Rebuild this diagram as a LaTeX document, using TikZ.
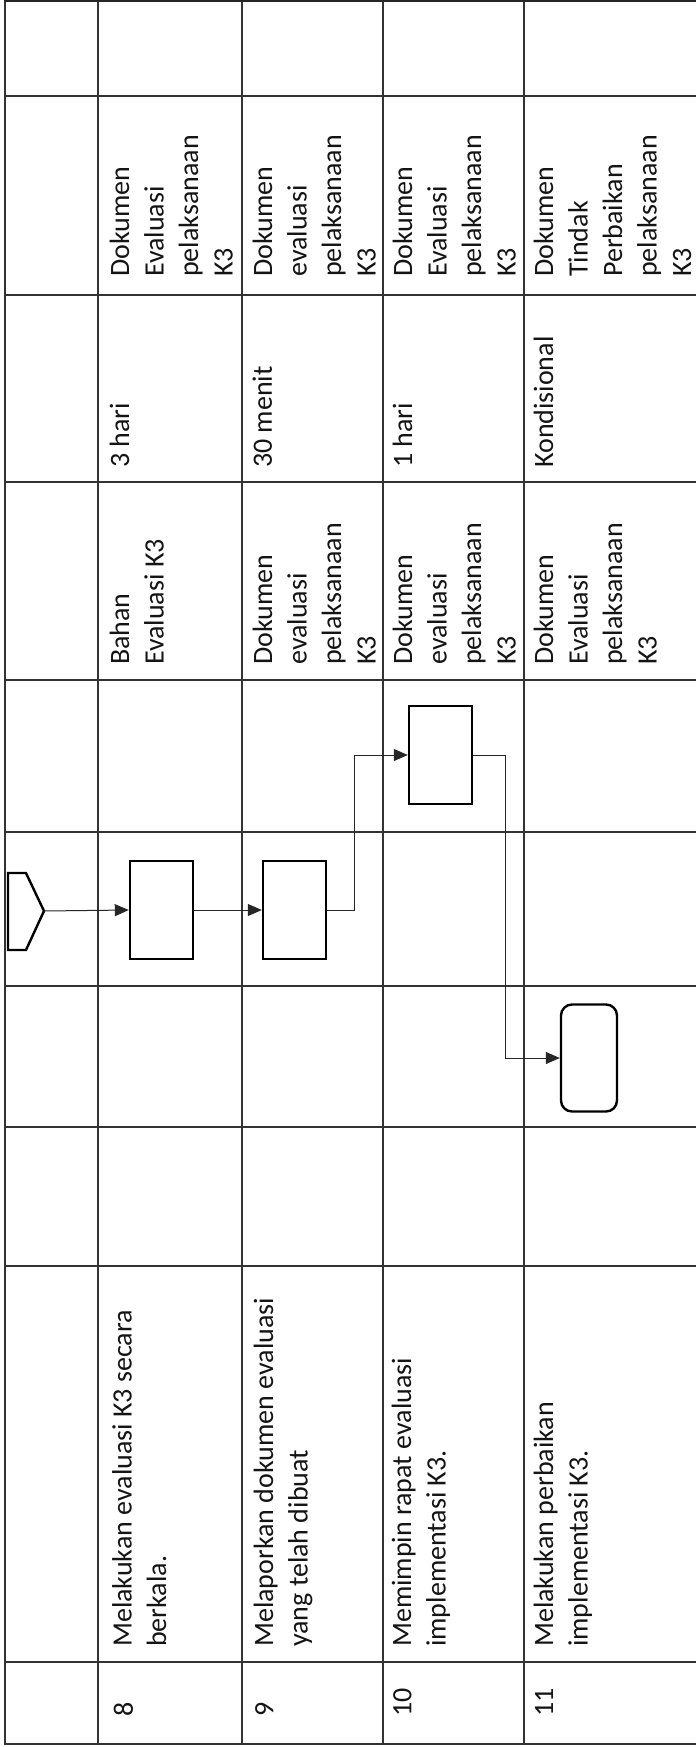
\documentclass[tikz,border=0pt]{standalone}
\usepackage{fontspec}
\setmainfont{Carlito}
\usetikzlibrary{arrows.meta}
\begin{document}
\begin{tikzpicture}[x=1pt,y=-1pt,
  gridline/.style={draw=black!80, line width=1.1pt},
  cell/.style={rotate=90, anchor=north west, inner sep=0pt, align=left,
    font=\fontsize{28}{34.5}\selectfont, text=black!92},
  proc/.style={draw=black, line width=2.4pt, minimum width=63pt, minimum height=98pt, inner sep=0pt},
  term/.style={draw=black, line width=2.4pt, rounded corners=11pt, minimum width=56pt, minimum height=107pt, inner sep=0pt},
  flow/.style={draw=black!85, line width=1pt, -{Triangle[length=14pt,width=12pt]}},
]
\useasboundingbox (0,0) rectangle (696,1747);
\fill[white] (0,0) rectangle (696,1747);

% table grid
\foreach \x in {5,98,242,383,524}
  \draw[gridline] (\x,0) -- (\x,1745);
\foreach \y in {96,295,482,680,832,986,1127,1266,1662,1744}
  \draw[gridline] (5,\y) -- (696,\y);
\draw[draw=black!85, line width=2.2pt] (4,1.2) -- (696,1.2);

% row 8
\node[cell] (o8) at (109.5,277) {Dokumen\\Evaluasi\\pelaksanaan\\K3};
\node[cell] (w8) at (109.5,468) {3 hari};
\node[cell] (i8) at (109.5,665) {Bahan\\Evaluasi K3};
\node[cell] (d8) at (112,1647) {Melakukan evaluasi K3 secara\\berkala.};
\node[cell] (n8) at (113.5,1717) {8};
% row 9
\node[cell] (o9) at (252.5,277) {Dokumen\\evaluasi\\pelaksanaan\\K3};
\node[cell] (w9) at (252.5,468) {30 menit};
\node[cell] (i9) at (252.5,665) {Dokumen\\evaluasi\\pelaksanaan\\K3};
\node[cell] (d9) at (253.5,1647) {Melaporkan dokumen evaluasi\\yang telah dibuat};
\node[cell] (n9) at (255,1717) {9};
% row 10
\node[cell] (o10) at (392.5,277) {Dokumen\\Evaluasi\\pelaksanaan\\K3};
\node[cell] (w10) at (392.5,468) {1 hari};
\node[cell] (i10) at (392.5,665) {Dokumen\\evaluasi\\pelaksanaan\\K3};
\node[cell] (d10) at (391.5,1647) {Memimpin rapat evaluasi\\implementasi K3.};
\node[cell] (n10) at (393,1717) {10};
% row 11
\node[cell] (o11) at (533.5,277) {Dokumen\\Tindak\\Perbaikan\\pelaksanaan\\K3};
\node[cell] (w11) at (533.5,468) {Kondisional};
\node[cell] (i11) at (533.5,665) {Dokumen\\Evaluasi\\pelaksanaan\\K3};
\node[cell] (d11) at (533.5,1647) {Melakukan perbaikan\\implementasi K3.};
\node[cell] (n11) at (535,1717) {11};

% flow shapes
\draw[draw=black, line width=2.4pt, line join=miter]
  (8,873) -- (26,873) -- (44,911) -- (26,950) -- (8,950) -- cycle;
\coordinate (offp) at (44,911);
\node[proc] (b8) at (161.5,910) {};
\node[proc] (b9) at (294.5,910) {};
\node[proc] (b10) at (440.5,755) {};
\node[term] (t11) at (589,1058) {};
\coordinate (j1) at (354,0);
\coordinate (j2) at (505,0);

\draw[flow] (offp) -- (b8.west);
\draw[flow] (b8.east) -- (b9.west);
\draw[flow] (b9.east) -- (b9.east -| j1) |- (b10.west);
\draw[flow] (b10.east) -- (b10.east -| j2) |- (t11.west);
\end{tikzpicture}
\end{document}
